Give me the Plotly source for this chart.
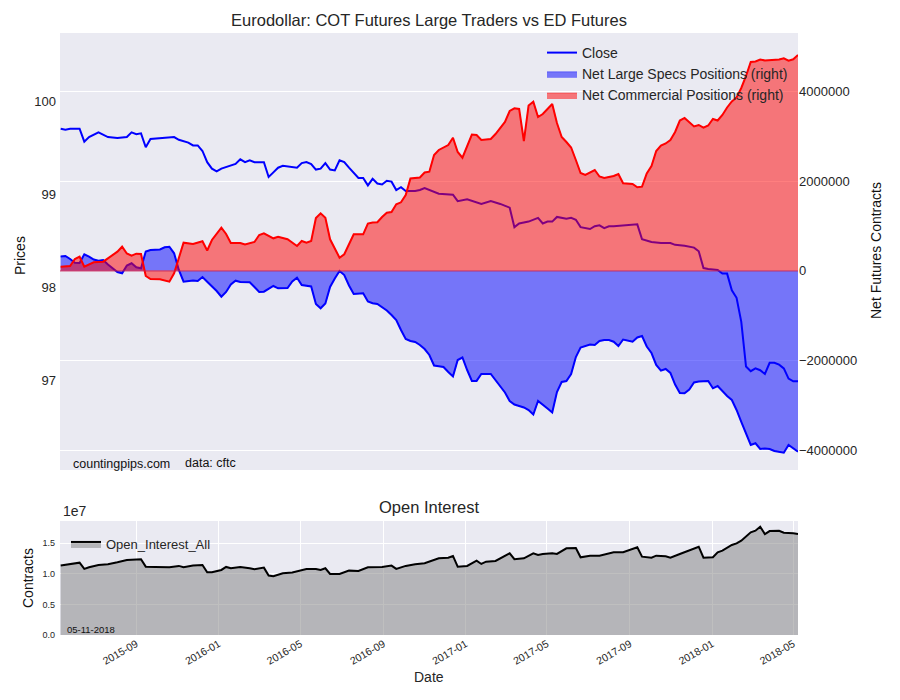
import numpy as np
import pandas as pd
import plotly.graph_objects as go

# Weekly COT report dates are expressed as weeks since the first report
START = "2015-05-12"

CLOSE_WEEKS = [0, 1, 2, 4, 5, 6, 8, 10, 12, 14,
               15, 16, 17, 18, 19, 21, 24, 25, 27, 28,
               29, 30, 31, 32, 33, 34, 36, 37, 38, 39,
               40, 41, 43, 44, 45, 46, 47, 49, 50, 51,
               52, 53, 54, 55, 56, 57, 58, 59, 60, 61,
               62, 63, 64, 65, 66, 67, 68, 69, 70, 71,
               72, 73, 75, 76, 77, 80, 83, 84, 86, 88,
               89, 91, 93, 95, 96, 97, 99, 101, 102, 103,
               104, 105, 107, 108, 109, 110, 112, 113, 114, 115,
               116, 117, 122, 123, 125, 127, 129, 130, 132, 134,
               135, 136, 137, 139, 140, 141, 142, 143, 144, 145,
               146, 147, 148, 149, 150, 151, 152, 153, 154, 155,
               156]
CLOSE = [99.71, 99.70, 99.71, 99.71, 99.57, 99.62, 99.67, 99.62, 99.61, 99.62,
         99.67, 99.65, 99.66, 99.51, 99.60, 99.61, 99.62, 99.59, 99.56, 99.53,
         99.53, 99.47, 99.35, 99.28, 99.25, 99.28, 99.31, 99.33, 99.38, 99.35,
         99.37, 99.35, 99.35, 99.19, 99.24, 99.29, 99.31, 99.30, 99.29, 99.34,
         99.35, 99.33, 99.27, 99.28, 99.34, 99.27, 99.26, 99.37, 99.35, 99.29,
         99.24, 99.18, 99.18, 99.10, 99.17, 99.12, 99.11, 99.15, 99.14, 99.05,
         99.08, 99.04, 99.04, 99.05, 99.07, 99.01, 99.00, 98.93, 98.95, 98.92,
         98.90, 98.93, 98.90, 98.86, 98.65, 98.69, 98.71, 98.75, 98.69, 98.71,
         98.71, 98.76, 98.74, 98.75, 98.73, 98.65, 98.63, 98.66, 98.67, 98.64,
         98.66, 98.66, 98.68, 98.52, 98.49, 98.48, 98.48, 98.46, 98.45, 98.43,
         98.39, 98.21, 98.20, 98.19, 98.15, 98.15, 97.97, 97.89, 97.63, 97.15,
         97.10, 97.13, 97.11, 97.07, 97.19, 97.19, 97.17, 97.13, 97.02, 96.99,
         96.99]

SPECS_WEEKS = [0, 1, 2, 3, 4, 5, 6, 7, 8, 9,
               10, 11, 12, 13, 14, 15, 16, 17, 18, 19,
               21, 22, 23, 24, 25, 26, 28, 29, 30, 31,
               33, 34, 35, 36, 37, 38, 40, 41, 42, 43,
               45, 46, 48, 49, 50, 51, 53, 54, 55, 56,
               57, 58, 59, 60, 61, 62, 64, 65, 66, 67,
               68, 69, 70, 71, 72, 73, 74, 75, 76, 77,
               78, 79, 80, 81, 82, 83, 84, 85, 86, 87,
               88, 89, 91, 92, 93, 94, 95, 96, 97, 98,
               99, 100, 101, 102, 103, 104, 105, 106, 107, 108,
               109, 110, 111, 112, 113, 114, 115, 116, 117, 118,
               119, 121, 122, 123, 124, 125, 126, 127, 128, 129,
               130, 131, 132, 133, 134, 135, 137, 138, 139, 140,
               141, 142, 143, 144, 145, 146, 147, 148, 149, 150,
               151, 152, 153, 154, 155, 156]
# thousands of contracts
SPECS_K = [319, 330, 263, 180, 174, 368, 314, 252, 225, 241,
           140, 62, -27, -56, 118, 167, 78, 56, 430, 463,
           475, 524, 537, 390, 18, -243, -216, -227, -138, -243,
           -450, -577, -472, -305, -221, -250, -256, -361, -472, -466,
           -339, -390, -383, -238, -154, -316, -350, -740, -836, -729,
           -361, -172, -4, -94, -328, -517, -501, -684, -724, -740,
           -818, -885, -985, -1096, -1319, -1520, -1564, -1587, -1653, -1743,
           -1876, -2110, -2128, -2144, -2255, -2355, -1988, -1932, -2211, -2456,
           -2454, -2300, -2300, -2433, -2567, -2712, -2901, -2979, -3013, -3046,
           -3102, -3202, -2901, -2979, -3068, -3158, -2701, -2478, -2456, -2300,
           -1921, -1709, -1676, -1642, -1653, -1564, -1542, -1542, -1580, -1676,
           -1531, -1580, -1486, -1453, -1687, -1832, -2099, -2226, -2188, -2277,
           -2534, -2723, -2730, -2645, -2489, -2467, -2456, -2618, -2567, -2690,
           -2790, -2879, -3102, -3369, -3637, -3882, -3844, -3971, -3960, -3971,
           -4016, -4038, -4053, -3882, -3955, -4031]

COMM_WEEKS = [0, 2, 3, 4, 5, 7, 9, 11, 12, 13,
              14, 15, 16, 17, 18, 19, 21, 23, 24, 25,
              26, 28, 30, 31, 32, 34, 35, 36, 38, 39,
              41, 42, 43, 45, 46, 48, 50, 51, 52, 53,
              54, 55, 56, 57, 58, 59, 60, 62, 64, 65,
              66, 67, 68, 69, 70, 71, 72, 73, 74, 75,
              76, 77, 78, 79, 80, 82, 83, 84, 85, 87,
              88, 89, 91, 92, 94, 95, 96, 97, 98, 99,
              100, 101, 102, 103, 104, 105, 106, 107, 108, 109,
              110, 111, 113, 114, 115, 117, 118, 119, 121, 122,
              123, 124, 125, 126, 127, 128, 129, 130, 131, 132,
              133, 134, 135, 136, 137, 138, 139, 140, 141, 142,
              143, 144, 145, 146, 147, 148, 149, 151, 152, 153,
              154, 155, 156]
COMM_K = [91, 107, 263, 314, 91, 189, 203, 341, 426, 537,
          386, 336, 381, 374, -116, -183, -189, -243, -56, 285,
          626, 597, 657, 452, 686, 960, 820, 619, 619, 586,
          642, 798, 836, 724, 760, 702, 553, 664, 626, 664,
          1177, 1281, 1183, 702, 479, 292, 368, 813, 813, 1054,
          1076, 1081, 1199, 1295, 1310, 1482, 1526, 1689, 2057, 2068,
          2079, 2190, 2208, 2580, 2692, 2803, 2966, 2647, 2520, 3037,
          3026, 2915, 2937, 3048, 3316, 3561, 3621, 3606, 2892, 3684,
          3768, 3427, 3494, 3606, 3717, 3294, 2982, 2870, 2748, 2469,
          2179, 2135, 2246, 2101, 2068, 2113, 2157, 1950, 1934, 1861,
          1874, 2168, 2335, 2670, 2792, 2837, 2915, 3093, 3349, 3405,
          3305, 3216, 3249, 3189, 3238, 3383, 3349, 3472, 3639, 3773,
          3862, 4074, 4341, 4653, 4664, 4709, 4686, 4691, 4709, 4735,
          4682, 4713, 4809]

OI_WEEKS = [0, 2, 4, 5, 6, 8, 10, 12, 14, 17,
            18, 20, 23, 25, 26, 28, 30, 31, 32, 34,
            35, 36, 38, 40, 41, 43, 44, 45, 47, 49,
            50, 52, 54, 55, 56, 57, 59, 61, 63, 65,
            68, 70, 71, 73, 75, 77, 80, 82, 83, 84,
            86, 88, 89, 90, 92, 93, 95, 96, 98, 100,
            101, 102, 104, 105, 107, 109, 110, 112, 114, 117,
            119, 122, 123, 125, 126, 128, 129, 131, 133, 135,
            136, 138, 139, 140, 142, 143, 144, 146, 147, 148,
            149, 150, 152, 153, 155, 156]
# millions of contracts
OI_M = [11.34, 11.61, 11.82, 10.80, 11.07, 11.45, 11.56, 11.89, 12.26, 12.38,
        11.17, 11.12, 11.07, 11.29, 11.07, 11.34, 11.45, 10.26, 10.26, 10.63,
        11.12, 10.91, 11.12, 10.91, 10.75, 11.01, 9.71, 9.61, 10.10, 10.20,
        10.36, 10.80, 10.80, 10.63, 10.91, 9.98, 9.98, 10.52, 10.47, 11.07,
        11.12, 11.34, 10.80, 11.29, 11.56, 11.73, 12.54, 12.64, 12.92, 11.17,
        11.29, 12.15, 11.61, 11.99, 12.10, 12.54, 13.35, 12.38, 12.54, 13.35,
        13.08, 13.24, 13.35, 13.24, 14.17, 14.22, 12.70, 12.96, 12.96, 13.52,
        13.52, 14.33, 12.80, 12.64, 12.96, 12.87, 12.64, 13.24, 13.89, 14.43,
        12.64, 12.70, 13.52, 13.78, 14.71, 14.98, 15.41, 16.78, 17.04, 17.69,
        16.50, 16.99, 17.04, 16.71, 16.61, 16.50]

PRICE_TICKS = [97, 98, 99, 100]
NET_TICKS = [-4000000, -2000000, 0, 2000000, 4000000]
OI_TICKS = [0, 5000000, 10000000, 15000000]
OI_TICK_TEXT = ["0.0", "0.5", "1.0", "1.5"]
X_RANGE = ["2015-05-11", "2018-05-08"]
MONTH_TICKS = pd.date_range("2015-09-01", "2018-05-01", freq="4MS")


def to_dates(weeks):
    return pd.Timestamp(START) + pd.to_timedelta(np.array(weeks) * 7, unit="D")


close_x = to_dates(CLOSE_WEEKS)
specs_x = to_dates(SPECS_WEEKS)
specs_y = np.array(SPECS_K) * 1000
comm_x = to_dates(COMM_WEEKS)
comm_y = np.array(COMM_K) * 1000
oi_x = to_dates(OI_WEEKS)
oi_y = np.array(OI_M) * 1e6

FONT = "Liberation Sans, Arial, sans-serif"
TXT = "#262626"

# The page places the figure 8px from the top-left corner of the window.
OFF = 8
W, H = 900 - 2 * OFF, 700 - 2 * OFF
PL, PR, PT, PB = 60, 798, 33, 635  # plot area in window pixels

fig = go.Figure()
fig.add_trace(go.Scatter(x=close_x, y=CLOSE, mode="lines", name="Close",
                         line=dict(color="#0000ff", width=2), xaxis="x", yaxis="y"))
fig.add_trace(go.Scatter(x=specs_x, y=specs_y, mode="lines", fill="tozeroy",
                         fillcolor="rgba(0,0,255,0.5)",
                         line=dict(color="rgba(0,0,255,0.5)", width=0.8),
                         name="Net Large Specs Positions (right)", xaxis="x", yaxis="y2"))
fig.add_trace(go.Scatter(x=specs_x, y=specs_y, mode="lines", showlegend=False,
                         line=dict(color="#0000ff", width=2), xaxis="x", yaxis="y2"))
fig.add_trace(go.Scatter(x=comm_x, y=comm_y, mode="lines", fill="tozeroy",
                         fillcolor="rgba(255,0,0,0.5)",
                         line=dict(color="rgba(255,0,0,0.5)", width=0.8),
                         name="Net Commercial Positions (right)", xaxis="x", yaxis="y2"))
fig.add_trace(go.Scatter(x=comm_x, y=comm_y, mode="lines", showlegend=False,
                         line=dict(color="#ff0000", width=2), xaxis="x", yaxis="y2"))
fig.add_trace(go.Scatter(x=oi_x, y=oi_y, mode="lines", fill="tozeroy",
                         fillcolor="rgba(128,128,128,0.5)",
                         line=dict(color="#000000", width=2),
                         name="Open_Interest_All", xaxis="x2", yaxis="y3", legend="legend2"))

PH = PB - PT
MAIN_BOTTOM = (PB - 470) / PH
OI_TOP = (PB - 521) / PH


def px_x(p):
    return (p - PL) / (PR - PL)


def px_y(p):
    return (PB - p) / PH


fig.update_layout(
    width=W, height=H,
    margin=dict(l=PL - OFF, r=W - (PR - OFF), t=PT - OFF, b=H - (PB - OFF)),
    paper_bgcolor="white", plot_bgcolor="#EAEAF2",
    font=dict(family=FONT, color=TXT, size=13),
    title=dict(text="Eurodollar: COT Futures Large Traders vs ED Futures",
               x=0.5, xref="paper", xanchor="center",
               y=1 - (20 - OFF) / H, yref="container", yanchor="middle",
               font=dict(size=16.5, color=TXT)),
    xaxis=dict(domain=[0, 1], anchor="y", type="date", range=X_RANGE,
               showgrid=False, showticklabels=False, zeroline=False, showline=False),
    yaxis=dict(domain=[MAIN_BOTTOM, 1], range=[96.036, 100.74],
               tickvals=PRICE_TICKS, showgrid=False, zeroline=False,
               ticks="", ticklabelstandoff=3, tickfont=dict(size=13, color=TXT)),
    yaxis2=dict(overlaying="y", side="right", anchor="x",
                range=[-4439000, 5299000], tickvals=NET_TICKS, tickformat="d",
                showgrid=True, gridcolor="white", gridwidth=1, zeroline=False,
                ticks="", tickfont=dict(size=13, color=TXT)),
    xaxis2=dict(domain=[0, 1], anchor="y3", type="date", range=X_RANGE,
                tickvals=MONTH_TICKS, tickformat="%Y-%m", tickangle=-30,
                showgrid=True, gridcolor="white", gridwidth=1, zeroline=False,
                ticks="", tickfont=dict(size=10.5, color=TXT)),
    yaxis3=dict(domain=[0, OI_TOP], anchor="x2", range=[0, 18630000],
                tickvals=OI_TICKS, ticktext=OI_TICK_TEXT,
                showgrid=True, gridcolor="white", gridwidth=1, zeroline=False,
                ticks="", ticklabelstandoff=4, tickfont=dict(size=9, color=TXT)),
    legend=dict(x=px_x(542), y=px_y(37), xanchor="left", yanchor="top",
                bgcolor="rgba(0,0,0,0)", font=dict(size=14, color=TXT),
                tracegroupgap=0),
    legend2=dict(x=px_x(66), y=px_y(529), xanchor="left", yanchor="top",
                 bgcolor="rgba(0,0,0,0)", font=dict(size=13, color=TXT)),
    showlegend=True,
)

fig.add_shape(type="line", xref="paper", x0=0, x1=1, yref="y2", y0=0, y1=0,
              line=dict(color="rgba(200,30,80,0.75)", width=1.2), layer="above")

ann = [
    dict(text="countingpips.com", x=px_x(71), y=px_y(464), xanchor="left",
         font=dict(size=12.5, color="#111111")),
    dict(text="data: cftc", x=px_x(183), y=px_y(463), xanchor="left",
         font=dict(size=12.5, color="#111111")),
    dict(text="Prices", x=px_x(20), y=px_y(256), textangle=-90,
         font=dict(size=14, color="#111111")),
    dict(text="Net Futures Contracts", x=px_x(876), y=px_y(251), textangle=-90,
         font=dict(size=14, color="#111111")),
    dict(text="Open Interest", x=0.5, y=px_y(507),
         font=dict(size=16.5, color=TXT)),
    dict(text="1e7", x=px_x(61), y=px_y(511), xanchor="left",
         font=dict(size=14, color=TXT)),
    dict(text="Contracts", x=px_x(28), y=px_y(578), textangle=-90,
         font=dict(size=14, color="#111111")),
    dict(text="Date", x=0.5, y=px_y(677), font=dict(size=14, color=TXT)),
    dict(text="05-11-2018", x=px_x(65), y=px_y(629), xanchor="left",
         font=dict(size=9.5, color="#111111")),
]
for a in ann:
    a.update(xref="paper", yref="paper", showarrow=False, yanchor="middle")
    a.setdefault("xanchor", "center")
    fig.add_annotation(**a)

fig.write_html("out.html")
